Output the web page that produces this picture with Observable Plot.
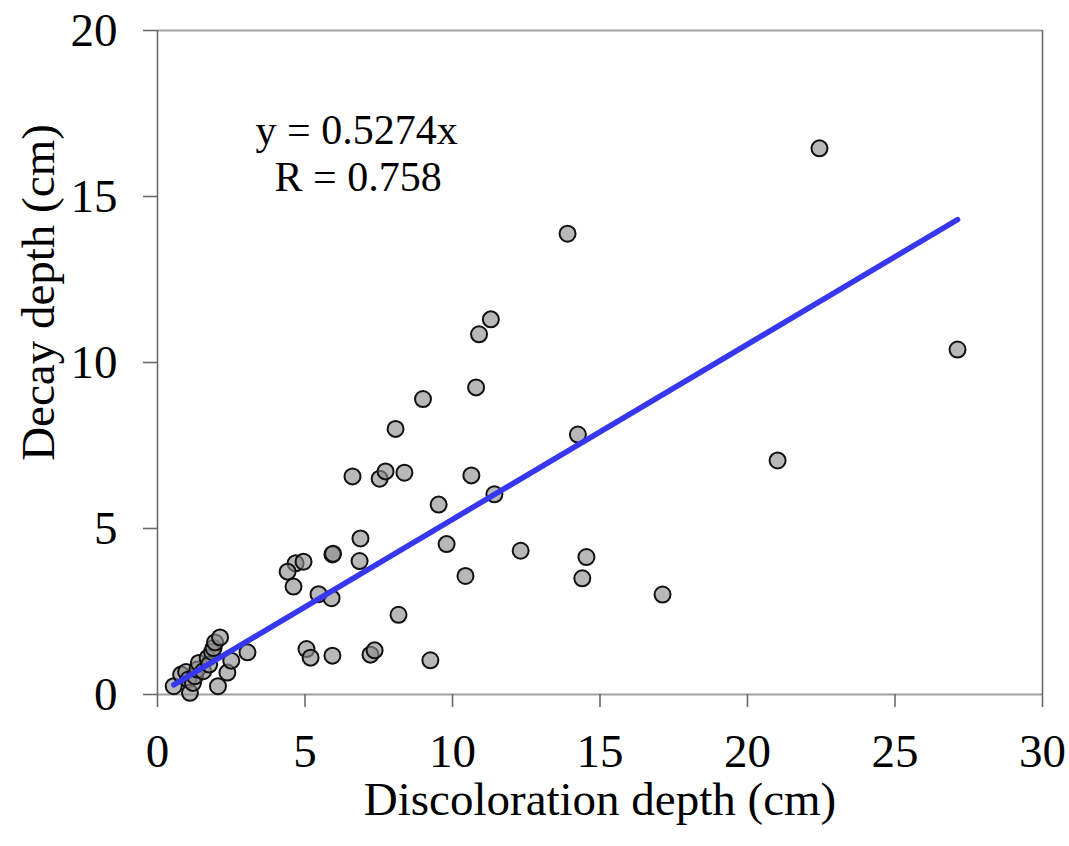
<!DOCTYPE html>
<html><head><meta charset="utf-8">
<script src="https://cdn.jsdelivr.net/npm/d3@7"></script>
<script src="https://cdn.jsdelivr.net/npm/@observablehq/plot@0.6"></script>
<style>body{margin:0;background:#fff} svg{display:block}</style>
</head><body><div id="chart"></div>
<script>
// Discoloration depth (cm) and decay depth (cm) per sample
const discoloration = [
  22.44, 13.90, 11.30, 10.90, 10.80, 9.00, 8.07, 14.25, 6.61, 7.53,
  7.73, 8.37, 10.64, 11.42, 9.53, 6.88, 5.93, 5.95, 4.68, 4.95,
  4.41, 6.85, 9.80, 12.31, 10.44, 4.61, 5.46, 5.90, 8.17, 5.05,
  5.19, 5.93, 7.22, 7.36, 9.25, 14.54, 14.40, 17.12, 21.02, 27.12,
  0.55, 0.80, 0.97, 1.05, 1.10, 1.20, 1.27, 1.35, 1.40, 1.55,
  1.70, 1.75, 1.85, 1.90, 1.95, 2.12, 2.05, 2.37, 2.50, 3.05
];
const decay = [
  16.45, 13.88, 11.30, 10.85, 9.25, 8.90, 8.00, 7.83, 6.57, 6.50,
  6.72, 6.68, 6.60, 6.03, 5.72, 4.70, 4.22, 4.24, 3.95, 4.00,
  3.70, 4.02, 4.53, 4.33, 3.57, 3.25, 3.02, 2.90, 2.40, 1.37,
  1.11, 1.17, 1.20, 1.33, 1.03, 4.14, 3.50, 3.01, 7.05, 10.39,
  0.25, 0.60, 0.68, 0.45, 0.05, 0.35, 0.55, 0.75, 0.95, 0.70,
  1.10, 0.90, 1.28, 1.40, 1.57, 1.72, 0.25, 0.66, 1.02, 1.27
];
const xTicks = [0, 5, 10, 15, 20, 25, 30];
const yTicks = [0, 5, 10, 15, 20];
const slope = 0.5274;
const equationLines = ["y = 0.5274x", "R = 0.758"];
const equationX = [6.75, 6.8];
const equationY = [17.0, 15.57];
const xTitle = "Discoloration depth (cm)";
const yTitle = "Decay depth (cm)";

const points = discoloration.map((x, i) => ({x, y: decay[i]}));
const x0 = d3.min(discoloration), x1 = d3.max(discoloration);
const fit = [{x: x0, y: slope * x0}, {x: x1, y: slope * x1}];
const notes = equationLines.map((t, i) => ({t, x: equationX[i], y: equationY[i]}));

const serif = "'Liberation Serif','Times New Roman',serif";

const chart = Plot.plot({
  width: 1069,
  height: 846,
  marginLeft: 157,
  marginRight: 27,
  marginTop: 30,
  marginBottom: 152,
  style: {fontFamily: serif, background: "#fff", color: "#000"},
  x: {domain: [0, 30]},
  y: {domain: [0, 20]},
  marks: [
    Plot.ruleY([0, 20], {stroke: "#a0a0a0", strokeWidth: 2}),
    Plot.ruleX([0, 30], {stroke: "#6a6a6a", strokeWidth: 1.6}),
    Plot.axisY({ticks: yTicks, tickSize: 14, tickPadding: 26, stroke: "#6a6a6a", strokeWidth: 1.6, fontSize: 47, label: null, tickFormat: d => String(d)}),
    Plot.axisX({ticks: xTicks, tickSize: 13, tickPadding: 26, stroke: "#6a6a6a", strokeWidth: 1.6, fontSize: 47, label: null, tickFormat: d => String(d)}),
    Plot.dot(points, {x: "x", y: "y", r: 8, fill: "#8c8c8c", fillOpacity: 0.62, stroke: "#111", strokeWidth: 2}),
    Plot.line(fit, {x: "x", y: "y", stroke: "#3737ef", strokeWidth: 5.5, strokeLinecap: "round"}),
    Plot.text(notes, {x: "x", y: "y", text: "t", fontSize: 42, fill: "#000", textAnchor: "middle"}),
    Plot.text([xTitle], {frameAnchor: "bottom", dy: 120, fontSize: 47, fill: "#000", textAnchor: "middle"}),
    Plot.text([yTitle], {frameAnchor: "left", dx: -119, dy: -70, rotate: -90, fontSize: 47, fill: "#000", textAnchor: "middle"})
  ]
});
document.getElementById("chart").appendChild(chart);
</script>
</body></html>
